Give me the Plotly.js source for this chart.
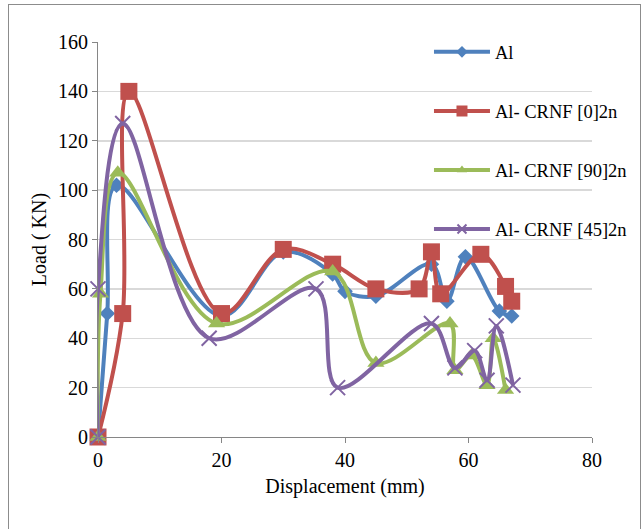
<!DOCTYPE html>
<html>
<head>
<meta charset="utf-8">
<script src="https://cdn.plot.ly/plotly-3.0.1.min.js"></script>
<style>
html,body{margin:0;padding:0;background:#fff;}
#wrap{position:relative;width:644px;height:529px;}
#chart{width:644px;height:529px;}
#frame{position:absolute;left:8px;top:4px;width:631px;height:530px;border:1px solid #8c8c8c;pointer-events:none;}
</style>
</head>
<body>
<div id="wrap"><div id="chart"></div><div id="frame"></div></div>
<script>
// Series names
var seriesNames = ["Al", "Al- CRNF [0]2n", "Al- CRNF [90]2n", "Al- CRNF [45]2n"];

// Al
var alX = [0, 1.5, 3, 20, 30, 38, 40, 45, 54, 56.5, 59.5, 65, 67];
var alY = [0, 50, 102, 49, 75, 66, 59, 57, 70, 55, 73, 51, 49];

// Al- CRNF [0]2n
var c0X = [0, 4, 5, 20, 30, 38, 45, 52, 54, 55.5, 62, 66, 67];
var c0Y = [0, 50, 140, 50, 76, 70, 60, 60, 75, 58, 74, 61, 55];

// Al- CRNF [90]2n
var c90X = [0, 0.4, 3.2, 19.2, 38, 45, 57, 57.8, 60.5, 63, 64, 66];
var c90Y = [0, 58, 107, 46, 67, 30, 46, 27, 33, 21, 40, 19];

// Al- CRNF [45]2n
var c45X = [0, 0, 4, 18, 35.3, 38.8, 54, 57.8, 61, 63, 64.5, 67.2];
var c45Y = [0, 60, 127, 40, 60, 20, 46, 28, 35, 23, 45, 21];

var colors = ["#4F81BD", "#C0504D", "#9BBB59", "#8064A2"];
var symbols = ["diamond", "square", "triangle-up", "x-thin"];
var sizes = [12, 17, 15, 15];
var legendSizes = [9, 11, 9, 9];

function markerFor(i, size) {
  var m = {symbol: symbols[i], size: size, color: colors[i]};
  if (symbols[i] === "x-thin") m.line = {color: colors[i], width: 2};
  return m;
}

function mk(i, xs, ys) {
  return {
    x: xs, y: ys, name: seriesNames[i], type: "scatter", mode: "lines+markers",
    line: {color: colors[i], width: 4, shape: "spline", smoothing: 1},
    marker: markerFor(i, sizes[i]), cliponaxis: false, showlegend: false
  };
}

function legendEntry(i) {
  return {
    x: [null], y: [null], name: seriesNames[i], type: "scatter", mode: "lines+markers",
    line: {color: colors[i], width: 4},
    marker: markerFor(i, legendSizes[i]), legendgroup: "g" + i, showlegend: true
  };
}

var traces = [
  mk(0, alX, alY), mk(1, c0X, c0Y), mk(2, c90X, c90Y), mk(3, c45X, c45Y),
  legendEntry(0), legendEntry(1), legendEntry(2), legendEntry(3)
];

var fam = "Times New Roman";
var font = {family: fam, size: 20, color: "#000"};

var layout = {
  width: 644, height: 529,
  margin: {l: 98, r: 50, t: 42, b: 92},
  paper_bgcolor: "#fff", plot_bgcolor: "#fff",
  font: font,
  showlegend: true,
  legend: {
    x: 0.67, y: 1.022, xanchor: "left", yanchor: "top",
    bgcolor: "rgba(0,0,0,0)", tracegroupgap: 32, itemwidth: 56,
    font: {family: fam, size: 18.5, color: "#000"}
  },
  xaxis: {
    range: [0, 80], dtick: 20, tick0: 0,
    showgrid: false, zeroline: false,
    showline: true, linecolor: "#868686", linewidth: 1,
    ticks: "outside", ticklen: 5, tickcolor: "#868686",
    tickfont: font,
    title: {text: "Displacement (mm)", font: font, standoff: 8}
  },
  yaxis: {
    range: [0, 160], dtick: 20, tick0: 0,
    showgrid: true, gridcolor: "#d9d9d9", gridwidth: 1.5,
    zeroline: false,
    showline: true, linecolor: "#868686", linewidth: 1,
    ticks: "outside", ticklen: 5, tickcolor: "#868686",
    tickfont: font,
    title: {text: "Load ( KN)", font: font, standoff: 6}
  }
};

Plotly.newPlot("chart", traces, layout, {displayModeBar: false, staticPlot: true});
</script>
</body>
</html>
